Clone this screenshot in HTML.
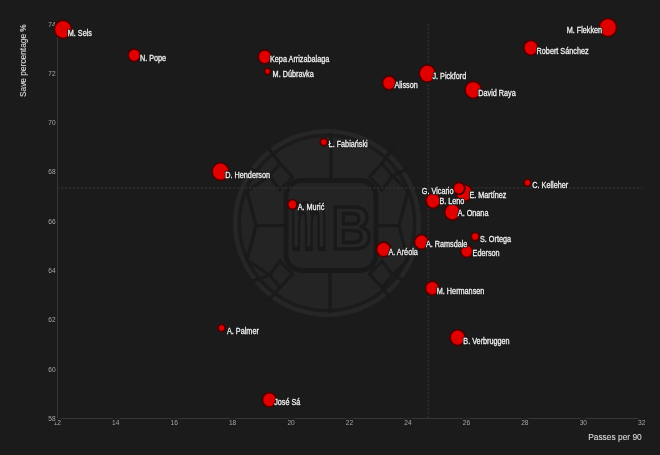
<!DOCTYPE html>
<html><head><meta charset="utf-8"><style>
html,body{margin:0;padding:0;background:#1b1b1b;}
svg{display:block;}
text{font-family:"Liberation Sans",Arial,sans-serif;}
</style></head><body>
<svg width="660" height="455" viewBox="0 0 660 455">
<rect width="660" height="455" fill="#1b1b1b"/>
<g id="wm">
<circle cx="327" cy="223" r="91.7" fill="none" stroke="#262626" stroke-width="4.6"/>
<circle cx="327" cy="223" r="86" fill="#242424"/>
<g stroke="#1a1a1a" stroke-width="3.2" fill="none" stroke-linejoin="round" stroke-linecap="round">
<line x1="331" y1="134" x2="331" y2="180"/>
<line x1="330" y1="270" x2="330" y2="312"/>
<line x1="256" y1="225.6" x2="286" y2="225.6"/>
<line x1="376" y1="225.6" x2="399" y2="225.6"/>
<polyline points="269.5,176 247,191 256,225.6 247,260 269.5,275"/>
<polyline points="392.5,176 408,191 399,225.6 408,260 392.5,275"/>
<polygon points="280,163.5 292.5,177 280,190 269.5,176"/>
<polygon points="382,163.5 369.5,177 382,190 392.5,176"/>
<polygon points="280,287.5 292.5,274 280,261 269.5,275"/>
<polygon points="382,287.5 369.5,274 382,261 392.5,275"/>
<line x1="280" y1="163.5" x2="266" y2="145"/>
<line x1="382" y1="163.5" x2="394" y2="145"/>
<line x1="280" y1="287.5" x2="266" y2="303"/>
<line x1="382" y1="287.5" x2="394" y2="303"/>
<line x1="269.5" y1="176" x2="248" y2="168"/>
<line x1="392.5" y1="176" x2="409" y2="168"/>
<line x1="269.5" y1="275" x2="248" y2="283"/>
<line x1="392.5" y1="275" x2="409" y2="283"/>
</g>
<rect x="286" y="180.5" width="90" height="90" rx="16" fill="#242424" stroke="#191919" stroke-width="4.8"/>
<g font-family="Liberation Sans" font-weight="bold" font-size="62" fill="#262626" stroke="#191919" stroke-width="3.6">
<text transform="translate(290.5,248.5) scale(0.66,1.36)" vector-effect="non-scaling-stroke">m</text>
<text transform="translate(331.5,248.5) scale(0.9,1)">B</text>
</g>
</g>

<g stroke="#313131" stroke-width="1.2" stroke-dasharray="2.5,1.5">
<line x1="57" y1="187.9" x2="642" y2="187.9"/>
<line x1="428.2" y1="24" x2="428.2" y2="418.5"/>
</g>
<g stroke="#363636" stroke-width="1">
<line x1="57.5" y1="24" x2="57.5" y2="419"/>
<line x1="57" y1="418.5" x2="640" y2="418.5"/>
</g>
<g fill="#a6a6a6" font-size="6.6" stroke="#1b1b1b" stroke-width="3.6" stroke-linejoin="round" paint-order="stroke">
<text x="57.3" y="424.8" text-anchor="middle">12</text><text x="115.7" y="424.8" text-anchor="middle">14</text><text x="174.2" y="424.8" text-anchor="middle">16</text><text x="232.6" y="424.8" text-anchor="middle">18</text><text x="291.1" y="424.8" text-anchor="middle">20</text><text x="349.5" y="424.8" text-anchor="middle">22</text><text x="407.9" y="424.8" text-anchor="middle">24</text><text x="466.4" y="424.8" text-anchor="middle">26</text><text x="524.8" y="424.8" text-anchor="middle">28</text><text x="583.3" y="424.8" text-anchor="middle">30</text><text x="641.7" y="424.8" text-anchor="middle">32</text><text x="52.0" y="420.9" text-anchor="middle">58</text><text x="52.0" y="371.6" text-anchor="middle">60</text><text x="52.0" y="322.3" text-anchor="middle">62</text><text x="52.0" y="273.0" text-anchor="middle">64</text><text x="52.0" y="223.7" text-anchor="middle">66</text><text x="52.0" y="174.4" text-anchor="middle">68</text><text x="52.0" y="125.1" text-anchor="middle">70</text><text x="52.0" y="75.8" text-anchor="middle">72</text><text x="52.0" y="26.5" text-anchor="middle">74</text>
</g>
<g fill="#dcdcdc" stroke="#dcdcdc" stroke-width="0.1">
<text transform="translate(641.8,439.8) scale(0.913,1)" text-anchor="end" font-size="9.2">Passes per 90</text>
<text transform="translate(26.2,97) rotate(-90) scale(0.87,1)" font-size="9.6">Save percentage %</text>
</g>
<g fill="#e00000" stroke="#4a0202" stroke-width="1.8">
<ellipse cx="63" cy="29.4" rx="8.70" ry="9.09"/><ellipse cx="134.2" cy="55.2" rx="6.10" ry="6.37"/><ellipse cx="264.8" cy="56.9" rx="6.70" ry="7.00"/><ellipse cx="267.5" cy="71.3" rx="3.10" ry="3.24"/><ellipse cx="389.1" cy="82.9" rx="6.70" ry="7.00"/><ellipse cx="427.3" cy="73.5" rx="8.20" ry="8.57"/><ellipse cx="473.2" cy="89.8" rx="8.20" ry="8.57"/><ellipse cx="607.9" cy="27.5" rx="8.80" ry="9.20"/><ellipse cx="530.9" cy="47.8" rx="7.20" ry="7.52"/><ellipse cx="323.8" cy="142" rx="3.60" ry="3.76"/><ellipse cx="220.5" cy="171.6" rx="8.50" ry="8.88"/><ellipse cx="527.5" cy="182.7" rx="3.50" ry="3.66"/><ellipse cx="464.3" cy="193.0" rx="8.10" ry="8.46"/><ellipse cx="459" cy="188.3" rx="5.80" ry="6.06"/><ellipse cx="433.1" cy="200.7" rx="7.30" ry="7.63"/><ellipse cx="452.3" cy="212.1" rx="7.80" ry="8.15"/><ellipse cx="292.4" cy="204.5" rx="4.60" ry="4.81"/><ellipse cx="475.2" cy="236.6" rx="4.00" ry="4.18"/><ellipse cx="421.5" cy="242" rx="7.10" ry="7.42"/><ellipse cx="383.6" cy="249.4" rx="7.10" ry="7.42"/><ellipse cx="466.7" cy="251.2" rx="6.00" ry="6.27"/><ellipse cx="432.2" cy="288.2" rx="6.80" ry="7.11"/><ellipse cx="221.6" cy="327.9" rx="3.50" ry="3.66"/><ellipse cx="457.6" cy="337.6" rx="7.60" ry="7.94"/><ellipse cx="269.4" cy="399.8" rx="7.00" ry="7.31"/>
</g>
<g fill="#1b1b1b" font-size="8.2" stroke="#1b1b1b" stroke-width="2.4" stroke-linejoin="round">
<text transform="translate(67.80,35.80) scale(0.885,1)">M. Sels</text><text transform="translate(139.90,60.70) scale(0.885,1)">N. Pope</text><text transform="translate(270.00,62.40) scale(0.885,1)">Kepa Arrizabalaga</text><text transform="translate(272.60,76.70) scale(0.885,1)">M. Dúbravka</text><text transform="translate(394.40,88.40) scale(0.885,1)">Alisson</text><text transform="translate(432.40,79.10) scale(0.885,1)">J. Pickford</text><text transform="translate(478.30,95.80) scale(0.885,1)">David Raya</text><text transform="translate(602.10,32.80) scale(0.885,1)" text-anchor="end">M. Flekken</text><text transform="translate(536.60,53.70) scale(0.885,1)">Robert Sánchez</text><text transform="translate(328.60,146.80) scale(0.885,1)">Ł. Fabiański</text><text transform="translate(225.30,177.80) scale(0.885,1)">D. Henderson</text><text transform="translate(532.30,188.00) scale(0.885,1)">C. Kelleher</text><text transform="translate(469.40,198.30) scale(0.885,1)">E. Martínez</text><text transform="translate(453.50,193.50) scale(0.885,1)" text-anchor="end">G. Vicario</text><text transform="translate(439.40,204.20) scale(0.885,1)">B. Leno</text><text transform="translate(457.80,216.40) scale(0.885,1)">A. Onana</text><text transform="translate(297.70,210.10) scale(0.885,1)">A. Murić</text><text transform="translate(480.00,241.70) scale(0.885,1)">S. Ortega</text><text transform="translate(425.90,247.30) scale(0.885,1)">A. Ramsdale</text><text transform="translate(388.40,255.20) scale(0.885,1)">A. Aréola</text><text transform="translate(472.60,255.60) scale(0.885,1)">Ederson</text><text transform="translate(436.80,293.60) scale(0.885,1)">M. Hermansen</text><text transform="translate(227.00,333.80) scale(0.885,1)">A. Palmer</text><text transform="translate(463.30,343.80) scale(0.885,1)">B. Verbruggen</text><text transform="translate(274.20,404.80) scale(0.885,1)">José Sá</text>
</g>
<g fill="#f0f0f0" font-size="8.2" stroke="#f0f0f0" stroke-width="0.28">
<text transform="translate(67.80,35.80) scale(0.885,1)">M. Sels</text><text transform="translate(139.90,60.70) scale(0.885,1)">N. Pope</text><text transform="translate(270.00,62.40) scale(0.885,1)">Kepa Arrizabalaga</text><text transform="translate(272.60,76.70) scale(0.885,1)">M. Dúbravka</text><text transform="translate(394.40,88.40) scale(0.885,1)">Alisson</text><text transform="translate(432.40,79.10) scale(0.885,1)">J. Pickford</text><text transform="translate(478.30,95.80) scale(0.885,1)">David Raya</text><text transform="translate(602.10,32.80) scale(0.885,1)" text-anchor="end">M. Flekken</text><text transform="translate(536.60,53.70) scale(0.885,1)">Robert Sánchez</text><text transform="translate(328.60,146.80) scale(0.885,1)">Ł. Fabiański</text><text transform="translate(225.30,177.80) scale(0.885,1)">D. Henderson</text><text transform="translate(532.30,188.00) scale(0.885,1)">C. Kelleher</text><text transform="translate(469.40,198.30) scale(0.885,1)">E. Martínez</text><text transform="translate(453.50,193.50) scale(0.885,1)" text-anchor="end">G. Vicario</text><text transform="translate(439.40,204.20) scale(0.885,1)">B. Leno</text><text transform="translate(457.80,216.40) scale(0.885,1)">A. Onana</text><text transform="translate(297.70,210.10) scale(0.885,1)">A. Murić</text><text transform="translate(480.00,241.70) scale(0.885,1)">S. Ortega</text><text transform="translate(425.90,247.30) scale(0.885,1)">A. Ramsdale</text><text transform="translate(388.40,255.20) scale(0.885,1)">A. Aréola</text><text transform="translate(472.60,255.60) scale(0.885,1)">Ederson</text><text transform="translate(436.80,293.60) scale(0.885,1)">M. Hermansen</text><text transform="translate(227.00,333.80) scale(0.885,1)">A. Palmer</text><text transform="translate(463.30,343.80) scale(0.885,1)">B. Verbruggen</text><text transform="translate(274.20,404.80) scale(0.885,1)">José Sá</text>
</g>
</svg>
</body></html>
